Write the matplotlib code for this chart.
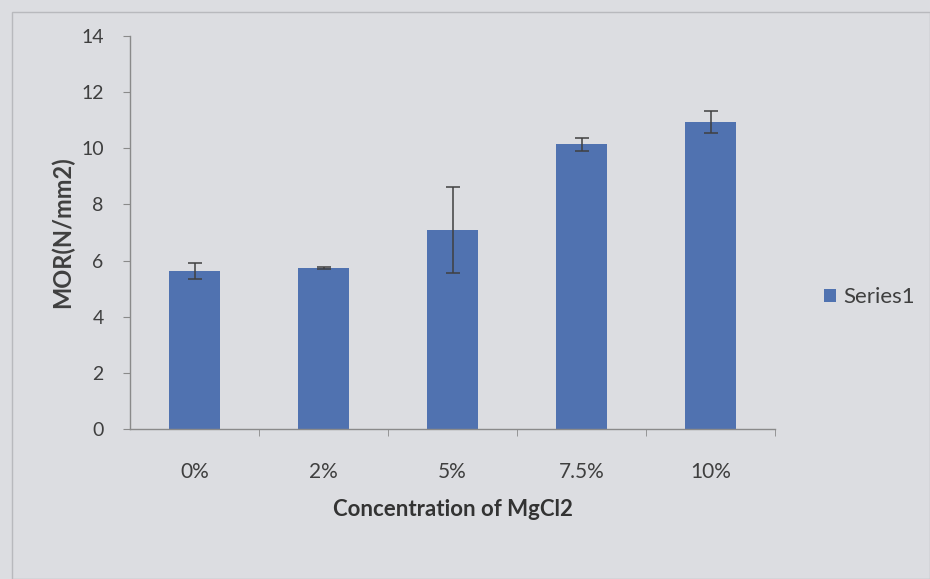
import matplotlib
matplotlib.use("Agg")
import matplotlib.pyplot as plt
from matplotlib.patches import Rectangle

categories = ["0%", "2%", "5%", "7.5%", "10%"]
values = [5.63, 5.74, 7.09, 10.15, 10.94]
errors = [0.28, 0.03, 1.52, 0.23, 0.39]
series_name = "Series1"

plt.rcParams['font.family'] = ['Lato', 'DejaVu Sans']
bg = "#dcdde1"
bar_color = "#5072b0"
txt = "#3f3f3f"

fig = plt.figure(figsize=(9.3, 5.79), dpi=100, facecolor=bg)
ax = fig.add_axes([130/930, 1-429/579, 645/930, (429-36)/579])
ax.set_facecolor(bg)

x = list(range(len(categories)))
ax.bar(x, values, width=0.4, color=bar_color, yerr=errors,
       error_kw=dict(ecolor="#404040", elinewidth=1.1, capsize=5, capthick=1.1),
       label=series_name, zorder=2)

ax.set_xlim(-0.5, len(categories) - 0.5)
ax.set_ylim(0, 14)
ax.set_yticks(range(0, 15, 2))
ax.set_xticks(x)
ax.set_xticklabels(categories)
ax.set_xticks([i + 0.5 for i in x[:-1]] + [len(categories) - 0.5], minor=True)
ax.tick_params(axis='x', which='major', length=0, pad=24, labelsize=15, labelcolor=txt)
ax.tick_params(axis='x', which='minor', length=5, color="#8a8a8a")
ax.tick_params(axis='y', length=5, color="#8a8a8a", pad=14, labelsize=14, labelcolor=txt)

for s in ['top', 'right']:
    ax.spines[s].set_visible(False)
for s in ['left', 'bottom']:
    ax.spines[s].set_color("#8a8a8a")
    ax.spines[s].set_linewidth(1.0)

ax.set_ylabel("MOR(N/mm2)", fontsize=17, fontweight='bold', color=txt, labelpad=5)
ax.set_xlabel("Concentration of MgCl2", fontsize=16, fontweight='bold', color="#333333", labelpad=12)

leg = ax.legend(loc='center left', bbox_to_anchor=(1.045, 0.335), frameon=False,
                fontsize=16, handlelength=0.55, handleheight=0.55, handletextpad=0.3)
for t in leg.get_texts():
    t.set_color(txt)

fig.add_artist(Rectangle((12/930, 0), (930-12)/930, 1-12/579, transform=fig.transFigure,
                         fill=False, edgecolor="#b8b9bd", linewidth=1.0))

fig.savefig("out.png", dpi=100, facecolor=bg)
